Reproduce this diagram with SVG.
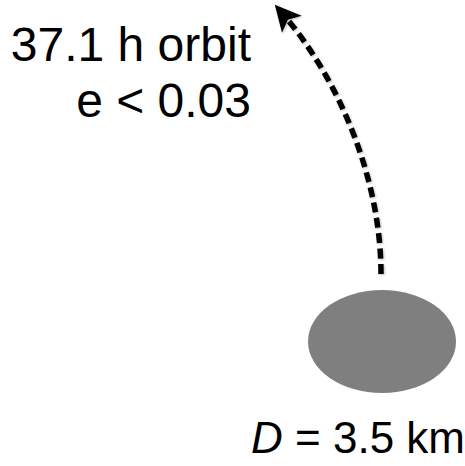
<svg xmlns="http://www.w3.org/2000/svg" width="465" height="466" viewBox="0 0 465 466">
  <style>
    .lbl { font-family: "Liberation Sans", Arial, sans-serif; fill: #000; }
  </style>
  <defs>
    <marker id="head" markerUnits="userSpaceOnUse" markerWidth="1" markerHeight="1" refX="0" refY="0" orient="auto" overflow="visible">
      <path d="M11,0 L-15,-13 L-9,0 L-15,13 Z" fill="#000"/>
    </marker>
    <filter id="shadow" x="-20%" y="-20%" width="140%" height="140%">
      <feDropShadow dx="1" dy="1" stdDeviation="1.2" flood-color="#000" flood-opacity="0.25"/>
    </filter>
  </defs>
  <rect width="465" height="466" fill="#fff"/>
  <g id="connectors">
    <path d="M381,274 C381,180 340,80 282,13" fill="none" stroke="#000" stroke-width="5.5" stroke-dasharray="10 5.5" marker-end="url(#head)" filter="url(#shadow)"/>
  </g>
  <g id="asteroid">
    <ellipse cx="382" cy="341.5" rx="74" ry="51.5" fill="#7f7f7f"/>
  </g>
  <g id="orbit-label">
    <text class="lbl" x="251" y="61" font-size="48" text-anchor="end">37.1 h orbit</text>
    <text class="lbl" x="251" y="117" font-size="48" text-anchor="end">e &lt; 0.03</text>
  </g>
  <g id="size-label">
    <text class="lbl" x="465" y="453" font-size="44" text-anchor="end"><tspan font-style="italic">D</tspan> = 3.5 km</text>
  </g>
</svg>
